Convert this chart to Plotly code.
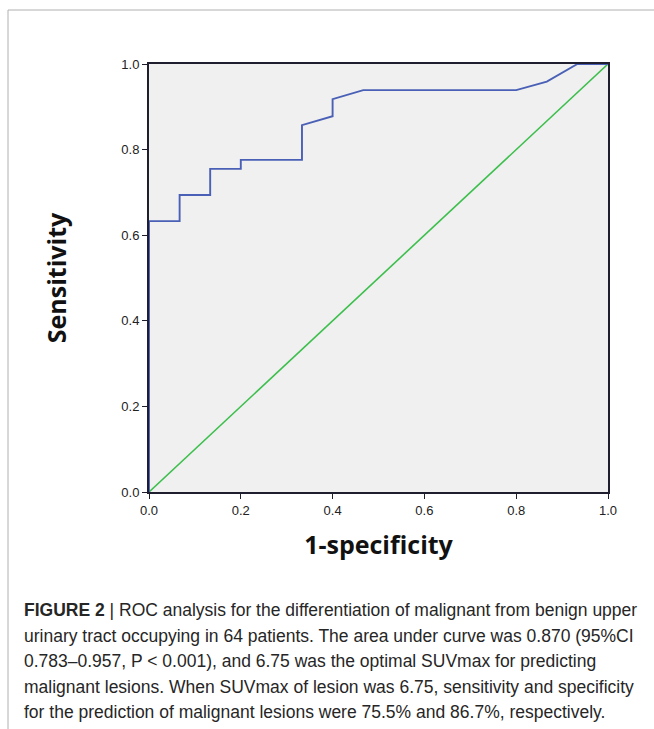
import plotly.graph_objects as go

# ROC curve (1-specificity, sensitivity)
fpr = [0.0, 0.0, 0.0667, 0.0667, 0.1333, 0.1333, 0.2, 0.2, 0.3333, 0.3333, 0.4, 0.4, 0.4667, 0.8, 0.8667, 0.9333, 1.0]
tpr = [0.0, 0.633, 0.633, 0.694, 0.694, 0.755, 0.755, 0.776, 0.776, 0.857, 0.878, 0.918, 0.939, 0.939, 0.959, 1.0, 1.0]
ref_x = [0.0, 1.0]
ref_y = [0.0, 1.0]
tick_vals = [0.0, 0.2, 0.4, 0.6, 0.8, 1.0]
tick_text = ["0.0", "0.2", "0.4", "0.6", "0.8", "1.0"]

caption_lines = [
    "<b>FIGURE 2</b> | ROC analysis for the differentiation of malignant from benign upper",
    "urinary tract occupying in 64 patients. The area under curve was 0.870 (95%CI",
    "0.783–0.957, P < 0.001), and 6.75 was the optimal SUVmax for predicting",
    "malignant lesions. When SUVmax of lesion was 6.75, sensitivity and specificity",
    "for the prediction of malignant lesions were 75.5% and 86.7%, respectively.",
]

W, H = 654, 729
L, R, T, B = 149, 46, 64, 237
pw, ph = W - L - R, H - T - B

def px(x):
    return (x - L) / pw

def py(y):
    return (H - B - y) / ph

fig = go.Figure()
fig.add_trace(go.Scatter(x=ref_x, y=ref_y, mode="lines",
                         line=dict(color="#3cbf4c", width=1.6), showlegend=False))
fig.add_trace(go.Scatter(x=fpr, y=tpr, mode="lines",
                         line=dict(color="#4a60b6", width=1.9), showlegend=False))

axis_common = dict(range=[0, 1], tickvals=tick_vals, ticktext=tick_text,
                   showgrid=False, zeroline=False, showline=True, mirror=True,
                   linecolor="#1e1e2e", linewidth=2, ticks="outside", ticklen=5,
                   tickcolor="#1e1e2e", tickfont=dict(family="Liberation Sans", size=13, color="#222"))

fig.update_layout(
    width=W, height=H,
    margin=dict(l=L, r=R, t=T, b=B),
    paper_bgcolor="white", plot_bgcolor="#f0f0f0",
    xaxis=dict(**axis_common,
               title=dict(text="<b>1-specificity</b>", standoff=20,
                          font=dict(family="Open Sans", size=25, color="#111"))),
    yaxis=dict(**axis_common,
               title=dict(text="<b>Sensitivity</b>", standoff=48,
                          font=dict(family="Open Sans", size=25, color="#111"))),
)

# frame lines
fig.add_shape(type="line", xref="paper", yref="paper", x0=px(8), x1=px(W), y0=py(10), y1=py(10),
              line=dict(color="#b0b0b0", width=1))
fig.add_shape(type="line", xref="paper", yref="paper", x0=px(8), x1=px(8), y0=py(10), y1=py(H),
              line=dict(color="#b0b0b0", width=1))

line_y = [610, 636, 661, 687, 712]
for txt, yy in zip(caption_lines, line_y):
    fig.add_annotation(text=txt, xref="paper", yref="paper", x=px(22), y=py(yy),
                       xanchor="left", yanchor="middle", showarrow=False,
                       font=dict(family="Liberation Sans", size=17.5, color="#262626"))

fig.write_html("out.html", config={"displayModeBar": False},
               post_script="document.body.style.margin='0';document.body.style.overflow='hidden';")
